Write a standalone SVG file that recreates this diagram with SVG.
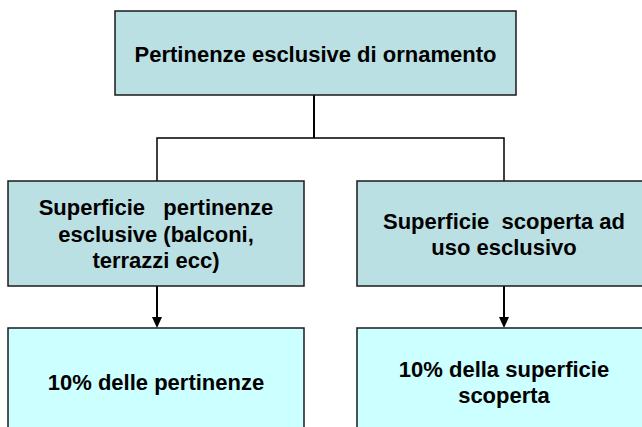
<svg xmlns="http://www.w3.org/2000/svg" width="642" height="427" viewBox="0 0 642 427">
<style>
.box{stroke:#1a1a1a;stroke-width:1.5}
.mid{fill:#BBE0E3}
.low{fill:#CCFFFF}
text{font-family:"Liberation Sans",Arial,sans-serif;font-weight:bold;font-size:22px;fill:#000;text-anchor:middle}
.conn{stroke:#000;fill:none}
</style>
<defs>
<marker id="ah" markerWidth="10" markerHeight="11" refX="5" refY="11" orient="auto-start-reverse" markerUnits="userSpaceOnUse" viewBox="0 0 10 11">
<path d="M0,0 L10,0 L5,11 Z" fill="#000" transform="rotate(0)"/>
</marker>
</defs>
<g id="connectors">
<path class="conn" d="M314,95 V138" stroke-width="2"/>
<path class="conn" d="M157,181 V138 H504 V181" stroke-width="1.5"/>
<path class="conn" d="M157,286 V317" stroke-width="2"/>
<path d="M152,317 L162,317 L157,328 Z" fill="#000"/>
<path class="conn" d="M504,286 V317" stroke-width="2"/>
<path d="M499,317 L509,317 L504,328 Z" fill="#000"/>
</g>
<g id="n-top">
<rect class="box mid" x="115" y="11" width="401" height="84"/>
<text x="315.5" y="62">Pertinenze esclusive di ornamento</text>
</g>
<g id="n-left">
<rect class="box mid" x="8" y="181" width="296" height="105"/>
<text x="156" y="215" xml:space="preserve">Superficie   pertinenze</text>
<text x="156" y="242">esclusive (balconi,</text>
<text x="156" y="268">terrazzi ecc)</text>
</g>
<g id="n-right">
<rect class="box mid" x="357" y="181" width="296" height="105"/>
<text x="504" y="229" xml:space="preserve">Superficie  scoperta ad</text>
<text x="504" y="255">uso esclusivo</text>
</g>
<g id="n-bl">
<rect class="box low" x="8" y="328" width="296" height="110"/>
<text x="156" y="390">10% delle pertinenze</text>
</g>
<g id="n-br">
<rect class="box low" x="357" y="328" width="296" height="110"/>
<text x="504" y="377">10% della superficie</text>
<text x="504" y="403">scoperta</text>
</g>
</svg>
